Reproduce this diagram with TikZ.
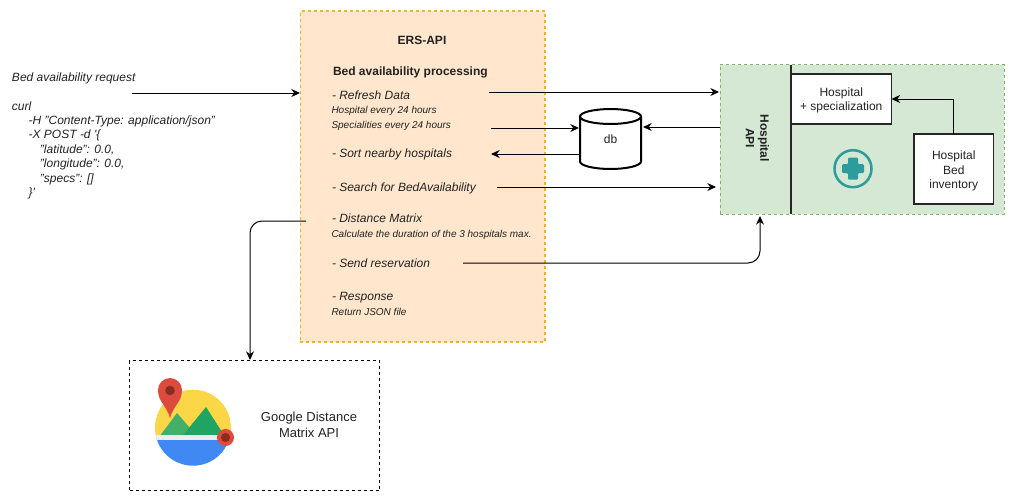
\documentclass[tikz,border=0pt]{standalone}
\usepackage{fontspec}
\setmainfont{Liberation Sans}
\usetikzlibrary{arrows.meta}
\definecolor{ersfill}{HTML}{FFE6CC}
\definecolor{ersline}{HTML}{F0B429}
\definecolor{hospfill}{HTML}{D5E8D4}
\definecolor{hospline}{HTML}{82B366}
\definecolor{teal}{HTML}{2D9C9C}
\definecolor{pinred}{HTML}{DC4B3E}
\definecolor{pindark}{HTML}{8C2B20}
\definecolor{mapyellow}{HTML}{FBD748}
\definecolor{mapblue}{HTML}{4089F5}
\definecolor{mapgreen}{HTML}{43B06A}
\definecolor{mapdark}{HTML}{1FA463}
\definecolor{mapshore}{HTML}{EDEDED}
\definecolor{txt}{HTML}{222222}
\tikzset{
	every node/.style={outer sep=0pt,inner sep=0pt,text=txt},
	conn/.style={-{Stealth[length=6.5pt,width=6pt]},black,line width=0.75pt},
	dashbox/.style={draw,line width=0.75pt,dash pattern=on 2.25pt off 2.25pt},
	plainbox/.style={draw=black!85,line width=0.8pt,fill=white,align=center,font=\fontsize{9}{10.8}\selectfont},
	itemtxt/.style={anchor=base west,font=\fontsize{9}{11}\selectfont\itshape},
	smalltxt/.style={anchor=base west,font=\fontsize{7.5}{9}\selectfont\itshape},
	boldtxt/.style={font=\fontsize{9}{11}\selectfont\bfseries},
}
\begin{document}
\begin{tikzpicture}[x=0.75pt,y=-0.75pt]
	\useasboundingbox (0,0) rectangle (1015,501);
	\node[dashbox,draw=ersline,line width=0.85pt,fill=ersfill,minimum width=183.4pt,minimum height=248.25pt] (ERS) at (422.75,176.5) {};
	\node[dashbox,draw=hospline,fill=hospfill,minimum width=213pt,minimum height=112.1pt] (Hosp) at (862,139.3) {};
	\node[dashbox,draw=black,minimum width=187.5pt,minimum height=97.5pt] (Google) at (254.5,425.5) {};

	\node[anchor=north west,align=left,font=\fontsize{9}{10.8}\selectfont\itshape] (Req) at (12,72.5) {Bed availability request\\ \\curl\\
		\hspace{12.5pt}-H "Content-Type: application/json"\\
		\hspace{12.5pt}-X POST -d \textquotesingle\{\\
		\hspace{21pt}"latitude": 0.0,\\
		\hspace{21pt}"longitude": 0.0,\\
		\hspace{21pt}"specs": []\\
		\hspace{12.5pt}\}\textquotesingle};

	\node[boldtxt,anchor=base] (Title) at (422,44) {ERS-API};
	\node[boldtxt,anchor=base west] (Proc) at (333,75) {Bed availability processing};
	\node[itemtxt] (Refresh) at (332,99.5) {- Refresh Data};
	\node[smalltxt] (Every1) at (331.5,113) {Hospital every 24 hours};
	\node[smalltxt] (Every2) at (331.5,128.5) {Specialities every 24 hours};
	\node[itemtxt] (Sort) at (332,157.7) {- Sort nearby hospitals};
	\node[itemtxt] (Search) at (332,191.7) {- Search for BedAvailability};
	\node[itemtxt] (Dist) at (332,222.7) {- Distance Matrix};
	\node[smalltxt] (Calc) at (331.5,237) {Calculate the duration of the 3 hospitals max.};
	\node[itemtxt] (Send) at (332,267.7) {- Send reservation};
	\node[itemtxt] (Resp) at (332,300.7) {- Response};
	\node[smalltxt] (Ret) at (331.5,315) {Return JSON file};

	\node[minimum width=45.75pt,minimum height=45pt,font=\fontsize{9}{11}\selectfont] (DB) at (610.5,139) {};
	\draw[black,line width=1.5pt,fill=white] (580,116.5) -- (580,161.5) arc[start angle=180,end angle=360,x radius=22.875pt,y radius=5.6pt] -- (641,116.5) arc[start angle=0,end angle=180,x radius=22.875pt,y radius=5.6pt] arc[start angle=180,end angle=360,x radius=22.875pt,y radius=5.6pt];
	\node[font=\fontsize{9}{11}\selectfont] (DBtxt) at (DB) {db};

	\node[plainbox,minimum width=75.4pt,minimum height=37.5pt] (Spec) at (841.25,99) {\rule{0pt}{8.7pt}Hospital\\+ specialization};
	\node[plainbox,minimum width=59.6pt,minimum height=52.5pt] (Inv) at (953.75,169) {\rule{0pt}{9.5pt}Hospital\\Bed\\inventory};
	\node[boldtxt,rotate=-90,align=center] (HospApi) at (757.5,138) {Hospital\\API};
	\node[font=\fontsize{9.75}{12}\selectfont,align=center] (GoogleTxt) at (309,425) {Google Distance\\Matrix API};

	\draw[black!85,line width=0.8pt] (Spec.west |- Hosp.north) -- (Spec.west |- Hosp.south);

	\draw[teal,line width=1.9pt] (853,168.7) circle (18.5);
	\fill[teal,rounded corners=0.8pt] (848,157.5) -- (858,157.5) -- (858,164.2) -- (864,164.2) -- (864,173) -- (858,173) -- (858,179.7) -- (848,179.7) -- (848,173) -- (842,173) -- (842,164.2) -- (848,164.2) -- cycle;

	\begin{scope}
		\clip (193,427.7) circle (38);
		\fill[mapyellow] (155,389) rectangle (231,436);
		\fill[mapblue] (155,436) rectangle (231,466);
		\fill[mapgreen] (160.5,435) -- (177,413) -- (196,435) -- cycle;
		\fill[mapdark] (183,435) -- (206,407) -- (224,435) -- cycle;
		\fill[mapshore] (155,435) rectangle (231,440);
	\end{scope}
	\fill[pinred] (170,418) .. controls (167,406) and (158,402) .. (158,390) arc[start angle=180,end angle=0,radius=9pt] .. controls (182,402) and (173,406) .. (170,418) -- cycle;
	\fill[pindark] (170,390.5) circle[radius=3.6pt];
	\fill[pinred] (225.5,437.5) circle[radius=6.4pt];
	\fill[pindark] (225.5,437.5) circle[radius=3.4pt];

	\coordinate (A0) at (132,93);
	\coordinate (A1) at (300,93);
	\coordinate (B0) at (489,92);
	\coordinate (B1) at (719,92);
	\coordinate (C0) at (491,128);
	\coordinate (C1) at (579,128);
	\coordinate (D0) at (720,127);
	\coordinate (D1) at (643,127);
	\coordinate (E0) at (580,154);
	\coordinate (E1) at (491,154);
	\coordinate (F0) at (497,187);
	\coordinate (F1) at (716,187);
	\coordinate (G0) at (463,263);
	\coordinate (G1) at (760,216);
	\coordinate (H0) at (306,221);
	\coordinate (H1) at (250,360);
	\draw
	(A0) edge[conn] (A1)
	(B0) edge[conn] (B1)
	(C0) edge[conn] (C1)
	(D0) edge[conn] (D1)
	(E0) edge[conn] (E1)
	(F0) edge[conn] (F1);
	\draw[conn,rounded corners=9pt] (G0) -| (G1);
	\draw[conn,rounded corners=9pt] (H0) -| (H1);
	\draw[conn] (Inv.north) |- (Spec.east);
\end{tikzpicture}
\end{document}
